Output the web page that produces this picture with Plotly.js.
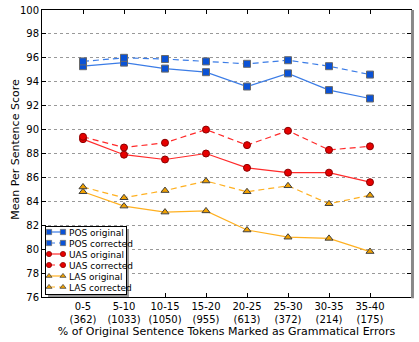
<!DOCTYPE html>
<html>
<head>
<meta charset="utf-8">
<script src="https://cdn.plot.ly/plotly-3.0.1.min.js"></script>
<style>
  html, body { margin: 0; padding: 0; background: #fff; }
  #chart { width: 419px; height: 342px; }
</style>
</head>
<body>
<div id="chart"></div>
<script>
// error-rate buckets, with sentence counts
var buckets = ['0-5', '5-10', '10-15', '15-20', '20-25', '25-30', '30-35', '35-40'];
var counts = [362, 1033, 1050, 955, 613, 372, 214, 175];

var posOriginal = [95.3, 95.6, 95.1, 94.8, 93.6, 94.7, 93.3, 92.6];
var posCorrected = [95.7, 96.0, 95.9, 95.7, 95.5, 95.8, 95.3, 94.6];
var uasOriginal = [89.2, 87.9, 87.5, 88.0, 86.8, 86.4, 86.4, 85.6];
var uasCorrected = [89.4, 88.5, 88.9, 90.0, 88.7, 89.9, 88.3, 88.6];
var lasOriginal = [84.8, 83.6, 83.1, 83.2, 81.6, 81.0, 80.9, 79.8];
var lasCorrected = [85.2, 84.3, 84.9, 85.7, 84.8, 85.3, 83.8, 84.5];

var xIdx = buckets.map(function (b, i) { return i; });
var tickText = buckets.map(function (b, i) { return b + '<br>(' + counts[i] + ')'; });

function series(name, y, line, marker, dash) {
  return {
    x: xIdx,
    y: y,
    name: name,
    type: 'scatter',
    mode: 'lines+markers',
    line: { color: line, width: 1.2, dash: dash },
    marker: marker
  };
}

var blueMarker = { symbol: 'square', size: 7, color: '#0a52d6', line: { color: '#6a6a6a', width: 1 } };
var redMarker = { symbol: 'circle', size: 7, color: '#e60000', line: { color: '#8a0000', width: 1 } };
var orangeMarker = { symbol: 'triangle-up', size: 7, color: '#f0a000', line: { color: '#404040', width: 1 } };

var data = [
  series('POS original', posOriginal, '#3b7ce6', blueMarker, 'solid'),
  series('POS corrected', posCorrected, '#3b7ce6', blueMarker, '6px,4px'),
  series('UAS original', uasOriginal, '#ff2a2a', redMarker, 'solid'),
  series('UAS corrected', uasCorrected, '#ff2a2a', redMarker, '6px,4px'),
  series('LAS original', lasOriginal, '#ffb020', orangeMarker, 'solid'),
  series('LAS corrected', lasCorrected, '#ffb020', orangeMarker, '6px,4px')
];

var layout = {
  width: 419,
  height: 342,
  margin: { l: 42, r: 8, t: 10, b: 45 },
  paper_bgcolor: '#fff',
  plot_bgcolor: '#fff',
  font: { family: 'DejaVu Sans, sans-serif', size: 10, color: '#000' },
  showlegend: true,
  // placed inside the plot first so it pushes no margin; moved after render
  legend: {
    x: 0.01, y: 0.98, xanchor: 'left', yanchor: 'top',
    bordercolor: '#000', borderwidth: 1, bgcolor: '#fff',
    font: { size: 9 }, tracegroupgap: 0, itemwidth: 30
  },
  xaxis: {
    range: [-1, 8],
    tickvals: xIdx,
    ticktext: tickText,
    ticks: 'inside', ticklen: 4, tickcolor: '#000',
    showgrid: false, zeroline: false,
    showline: true, linecolor: '#000', linewidth: 1, mirror: 'ticks',
    automargin: false,
    title: { text: '% of Original Sentence Tokens Marked as Grammatical Errors', font: { size: 11 }, standoff: 2 }
  },
  yaxis: {
    range: [76, 100],
    dtick: 2,
    ticks: 'inside', ticklen: 4, tickcolor: '#000',
    showgrid: true, gridcolor: '#999', griddash: 'dot', gridwidth: 1,
    zeroline: false,
    showline: true, linecolor: '#000', linewidth: 1, mirror: 'ticks',
    automargin: false,
    title: { text: 'Mean Per Sentence Score', font: { size: 11 }, standoff: 2 }
  },
  shapes: [
    { type: 'line', xref: 'paper', yref: 'paper', x0: 1.004, x1: 1.004, y0: -0.004, y1: 1.0,
      line: { color: '#888', width: 3 } }
  ]
};

// tighten the legend to a compact matplotlib-like box in the lower left
function compactLegend(gd) {
  var ytitle = gd.querySelector('.g-ytitle');
  if (ytitle) ytitle.setAttribute('transform', 'translate(4,-4)');

  var leg = gd.querySelector('.legend');
  if (!leg) return;
  var rowH = 11, top = 6, boxW = 81;
  leg.setAttribute('transform', 'translate(45,226)');
  var items = leg.querySelectorAll('.traces');
  items.forEach(function (t, i) {
    t.setAttribute('transform', 'translate(1,' + (top + i * rowH) + ')');
    var txt = t.querySelector('.legendtext');
    if (txt) {
      txt.setAttribute('x', 23);
      txt.querySelectorAll('tspan').forEach(function (s) { if (s.hasAttribute('x')) s.setAttribute('x', 23); });
    }
    var line = t.querySelector('.legendlines path');
    if (line) line.setAttribute('d', 'M3,0h14');
    var pts = t.querySelectorAll('.legendsymbols path');
    pts.forEach(function (p) {
      p.setAttribute('transform', 'translate(3,0) scale(0.75)');
      var twin = p.cloneNode(true);
      twin.setAttribute('transform', 'translate(17,0) scale(0.75)');
      p.parentNode.appendChild(twin);
    });
    var toggle = t.querySelector('.legendtoggle');
    if (toggle) toggle.setAttribute('width', boxW - 2);
  });
  var boxH = top + (items.length - 1) * rowH + 7;
  var bg = leg.querySelector('rect.bg');
  if (bg) {
    bg.setAttribute('width', boxW);
    bg.setAttribute('height', boxH);
    var shadow = bg.cloneNode(false);
    shadow.setAttribute('class', 'shadow');
    shadow.setAttribute('transform', 'translate(2,2)');
    shadow.style.fill = '#999';
    shadow.style.stroke = 'none';
    leg.insertBefore(shadow, bg);
  }
}

Plotly.newPlot('chart', data, layout, { displayModeBar: false, staticPlot: true })
  .then(compactLegend);
</script>
</body>
</html>
